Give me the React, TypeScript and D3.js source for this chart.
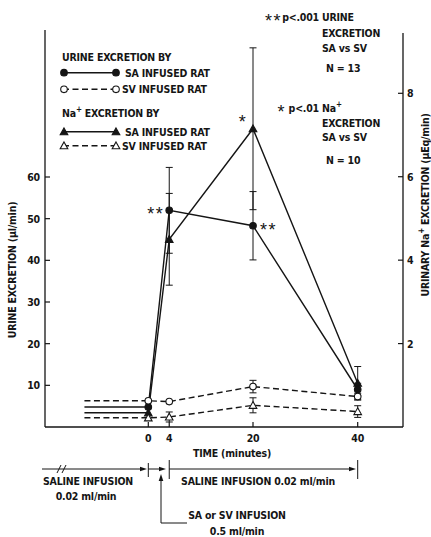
import React from 'react';
import * as d3 from 'd3';

const times = [0, 4, 20, 40];
const baselineStart = -12.2;
const urineSA = [4.8, 52, 48.3, 9.0];
const urineSAErr = [0, 10.3, 8.2, 1.5];
const urineSV = [6.3, 6.1, 9.7, 7.3];
const urineSVErr = [0, 0, 1.5, 0.8];
const naSA = [0.34, 4.5, 7.15, 1.05];
const naSAErr = [0, 1.1, 1.94, 0.4];
const naSV = [0.22, 0.24, 0.52, 0.37];
const naSVErr = [0, 0.12, 0.18, 0.14];
const leftTicks = [10, 20, 30, 40, 50, 60];
const rightTicks = [2, 4, 6, 8];
const xTicks = [0, 4, 20, 40];

const FONT = "'Liberation Sans Narrow', 'DejaVu Sans Condensed', 'Liberation Sans', sans-serif";
const STAR_FONT = "'Liberation Sans', 'DejaVu Sans', sans-serif";
const INK = '#151515';

const x = d3.scaleLinear().domain([0, 40]).range([148.3, 357.7]);
const yL = d3.scaleLinear().domain([0, 60]).range([427, 177]);
const yR = d3.scaleLinear().domain([0, 8]).range([427, 93.3]);

type Shape = 'circle' | 'triangle';

function Marker({ cx, cy, shape, filled }: { cx: number; cy: number; shape: Shape; filled: boolean }) {
  const fill = filled ? INK : '#fff';
  if (shape === 'circle') {
    return <circle cx={cx} cy={cy} r={3.3} fill={fill} stroke={INK} strokeWidth={1.1} />;
  }
  const s = 3.8;
  const p = `M${cx},${cy - s} L${cx + s},${cy + s * 0.8} L${cx - s},${cy + s * 0.8} Z`;
  return <path d={p} fill={fill} stroke={INK} strokeWidth={1.1} />;
}

const series = [
  { values: urineSA, errs: urineSAErr, scale: yL, dashed: false, filled: true, shape: 'circle' as Shape },
  { values: naSA, errs: naSAErr, scale: yR, dashed: false, filled: true, shape: 'triangle' as Shape },
  { values: urineSV, errs: urineSVErr, scale: yL, dashed: true, filled: false, shape: 'circle' as Shape },
  { values: naSV, errs: naSVErr, scale: yR, dashed: true, filled: false, shape: 'triangle' as Shape },
];

const T = (props: any) => (
  <text
    fontFamily={FONT}
    fontWeight="bold"
    fontSize={10.5}
    letterSpacing={-0.2}
    fill={INK}
    dominantBaseline="central"
    {...props}
  />
);

// asterisk text: alphabetic baseline, star glyph sits near cap height
const Star = ({ x: sx, y: sy, anchor, children }: any) => (
  <text
    x={sx}
    y={sy + 10}
    textAnchor={anchor || 'start'}
    fontFamily={STAR_FONT}
    fontSize={18}
    letterSpacing={1.5}
    fill={INK}
  >
    {children}
  </text>
);

function Arrow({ x1, x2, y }: { x1: number; x2: number; y: number }) {
  return (
    <g>
      <line x1={x1} x2={x2 - 5} y1={y} y2={y} stroke={INK} strokeWidth={1} />
      <path d={`M${x2},${y} L${x2 - 7},${y - 2.3} L${x2 - 7},${y + 2.3} Z`} fill={INK} />
    </g>
  );
}

export default function App() {
  const allT = [baselineStart, ...times];
  return (
    <svg width={431} height={537} style={{ position: 'absolute', left: 0, top: 0, background: '#fff' }}>
      <rect width={431} height={537} fill="#fff" />
      {/* axes frame */}
      <line x1={45} x2={45} y1={30} y2={427} stroke={INK} strokeWidth={1.3} />
      <line x1={403} x2={403} y1={33} y2={427} stroke={INK} strokeWidth={1.3} />
      <line x1={45} x2={403} y1={427} y2={427} stroke={INK} strokeWidth={1.3} />
      {leftTicks.map((t) => (
        <g key={'l' + t}>
          <line x1={45} x2={50} y1={yL(t)} y2={yL(t)} stroke={INK} strokeWidth={1.2} />
          <T x={40} y={yL(t)} textAnchor="end">{t}</T>
        </g>
      ))}
      {rightTicks.map((t) => (
        <g key={'r' + t}>
          <line x1={398} x2={403} y1={yR(t)} y2={yR(t)} stroke={INK} strokeWidth={1.2} />
          <T x={407} y={yR(t)}>{t}</T>
        </g>
      ))}
      {xTicks.map((t) => (
        <g key={'x' + t}>
          <line x1={x(t)} x2={x(t)} y1={427} y2={422} stroke={INK} strokeWidth={1.2} />
          <T x={x(t)} y={438} textAnchor="middle">{t}</T>
        </g>
      ))}
      <T x={232} y={453} textAnchor="middle">TIME (minutes)</T>
      <T transform="translate(12,270) rotate(-90)" textAnchor="middle">
        URINE EXCRETION (µl/min)
      </T>
      <T transform="translate(425,205) rotate(-90)" textAnchor="middle">
        URINARY Na<tspan fontSize={8} dy={-4}>+</tspan>
        <tspan dy={4}> EXCRETION (µEq/min)</tspan>
      </T>

      {/* series lines */}
      {series.map((s, i) => {
        const vals = [s.values[0], ...s.values];
        const line = d3
          .line<number>()
          .x((_, j) => x(allT[j]))
          .y((v) => s.scale(v));
        return (
          <path
            key={'ln' + i}
            d={line(vals) || ''}
            fill="none"
            stroke={INK}
            strokeWidth={1.4}
            strokeDasharray={s.dashed ? '6,3.5' : undefined}
          />
        );
      })}
      {/* error bars */}
      {series.map((s, i) =>
        s.values.map((v, j) =>
          s.errs[j] > 0 ? (
            <g key={'e' + i + '-' + j} stroke={INK} strokeWidth={1}>
              <line x1={x(times[j])} x2={x(times[j])} y1={s.scale(v + s.errs[j])} y2={s.scale(v - s.errs[j])} />
              <line x1={x(times[j]) - 3.5} x2={x(times[j]) + 3.5} y1={s.scale(v + s.errs[j])} y2={s.scale(v + s.errs[j])} />
              <line x1={x(times[j]) - 3.5} x2={x(times[j]) + 3.5} y1={s.scale(v - s.errs[j])} y2={s.scale(v - s.errs[j])} />
            </g>
          ) : null
        )
      )}
      {/* markers */}
      {series.map((s, i) =>
        s.values.map((v, j) => (
          <Marker key={'m' + i + '-' + j} cx={x(times[j])} cy={s.scale(v)} shape={s.shape} filled={s.filled} />
        ))
      )}
      {/* significance stars */}
      <Star x={x(4) - 5} y={yL(urineSA[1])} anchor="end">**</Star>
      <Star x={x(20) + 7} y={yL(urineSA[2])}>**</Star>
      <Star x={x(20) - 10} y={yR(naSA[2]) - 11} anchor="middle">*</Star>

      {/* legend */}
      <T x={62} y={57}>URINE EXCRETION BY</T>
      <line x1={63} x2={117} y1={72.7} y2={72.7} stroke={INK} strokeWidth={1.4} />
      <Marker cx={64} cy={72.7} shape="circle" filled />
      <Marker cx={116} cy={72.7} shape="circle" filled />
      <T x={125} y={72.7}>SA INFUSED RAT</T>
      <line x1={63} x2={117} y1={89.3} y2={89.3} stroke={INK} strokeWidth={1.4} strokeDasharray="6,3.5" />
      <Marker cx={64} cy={89.3} shape="circle" filled={false} />
      <Marker cx={116} cy={89.3} shape="circle" filled={false} />
      <T x={122} y={89.3}>SV INFUSED RAT</T>
      <T x={62} y={113}>
        Na<tspan fontSize={8} dy={-4}>+</tspan>
        <tspan dy={4}>  EXCRETION BY</tspan>
      </T>
      <line x1={63} x2={117} y1={131.7} y2={131.7} stroke={INK} strokeWidth={1.4} />
      <Marker cx={64} cy={131.7} shape="triangle" filled />
      <Marker cx={116} cy={131.7} shape="triangle" filled />
      <T x={125} y={131.7}>SA INFUSED RAT</T>
      <line x1={63} x2={117} y1={145.7} y2={145.7} stroke={INK} strokeWidth={1.4} strokeDasharray="6,3.5" />
      <Marker cx={64} cy={145.7} shape="triangle" filled={false} />
      <Marker cx={116} cy={145.7} shape="triangle" filled={false} />
      <T x={122} y={145.7}>SV INFUSED RAT</T>

      {/* top-right notes */}
      <Star x={282} y={17} anchor="end">**</Star>
      <T x={319} y={17} textAnchor="end">p&lt;.001</T>
      <T x={322} y={17}>URINE</T>
      <T x={322} y={33}>EXCRETION</T>
      <T x={322} y={48}>SA vs SV</T>
      <T x={326} y={68}>N = 13</T>
      <Star x={286} y={108} anchor="end">*</Star>
      <T x={319} y={108} textAnchor="end">p&lt;.01</T>
      <T x={322} y={108}>
        Na<tspan fontSize={8} dy={-4}>+</tspan>
      </T>
      <T x={322} y={123}>EXCRETION</T>
      <T x={322} y={137}>SA vs SV</T>
      <T x={326} y={160}>N = 10</T>

      {/* bottom timeline */}
      <Arrow x1={42} x2={147} y={469} />
      <line x1={57} x2={61} y1={473} y2={465} stroke={INK} strokeWidth={1} />
      <line x1={62} x2={66} y1={473} y2={465} stroke={INK} strokeWidth={1} />
      <line x1={x(0)} x2={x(0)} y1={463} y2={477} stroke={INK} strokeWidth={1} />
      <Arrow x1={x(0)} x2={166} y={469} />
      <line x1={x(4)} x2={x(4)} y1={460} y2={479} stroke={INK} strokeWidth={1} />
      <Arrow x1={x(4)} x2={356} y={469} />
      <line x1={x(40)} x2={x(40)} y1={460} y2={479} stroke={INK} strokeWidth={1} />
      <T x={88} y={481} textAnchor="middle">SALINE INFUSION</T>
      <T x={86} y={496} textAnchor="middle">0.02 ml/min</T>
      <T x={258} y={481} textAnchor="middle">SALINE INFUSION 0.02 ml/min</T>
      <line x1={161} x2={161} y1={523} y2={480} stroke={INK} strokeWidth={1} />
      <path d="M161,474 L158.7,481 L163.3,481 Z" fill={INK} />
      <line x1={161} x2={187} y1={523} y2={523} stroke={INK} strokeWidth={1} />
      <T x={237} y={515} textAnchor="middle">SA or SV INFUSION</T>
      <T x={237} y={531} textAnchor="middle">0.5 ml/min</T>
    </svg>
  );
}
